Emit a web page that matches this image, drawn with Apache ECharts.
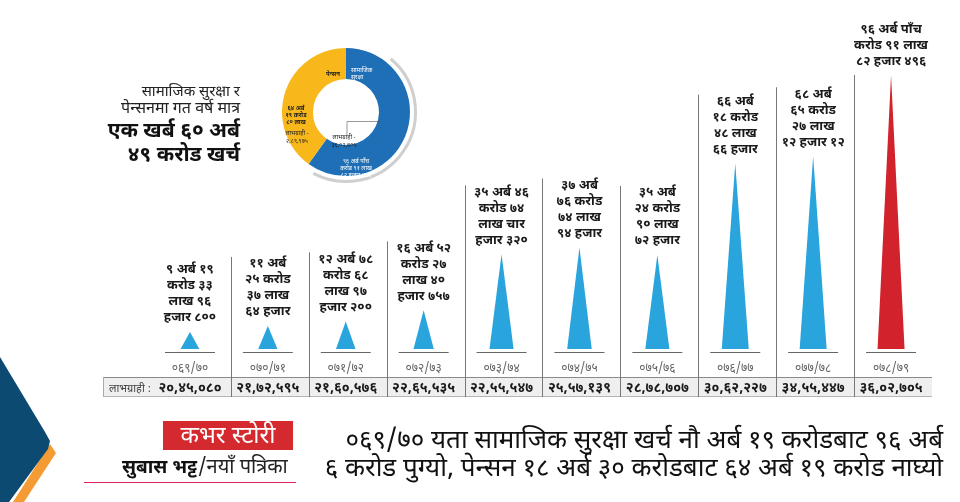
<!DOCTYPE html>
<html>
<head>
<meta charset="utf-8">
<script src="https://cdn.jsdelivr.net/npm/echarts@6/dist/echarts.min.js"></script>
<style>
html,body{margin:0;padding:0;background:#fff;}
#c{width:960px;height:502px;}
</style>
</head>
<body>
<div id="c"></div>
<script>
// ---- data ----
var categories = ['०६९/७०','०७०/७१','०७१/७२','०७२/७३','०७३/७४','०७४/७५','०७५/७६','०७६/७७','०७७/७८','०७८/७९'];
// expenditure in अर्ब (billion NPR)
var spending = [9.19, 11.25, 12.79, 16.52, 35.47, 37.77, 35.25, 66.18, 68.65, 96.06];
var spendingLabels = [
  '९ अर्ब १९\nकरोड ३३\nलाख ९६\nहजार ८००',
  '११ अर्ब\n२५ करोड\n३७ लाख\n६४ हजार',
  '१२ अर्ब ७८\nकरोड ६८\nलाख ९७\nहजार २००',
  '१६ अर्ब ५२\nकरोड २७\nलाख ४०\nहजार ७५७',
  '३५ अर्ब ४६\nकरोड ७४\nलाख चार\nहजार ३२०',
  '३७ अर्ब\n७६ करोड\n७४ लाख\n९४ हजार',
  '३५ अर्ब\n२४ करोड\n९० लाख\n७२ हजार',
  '६६ अर्ब\n१८ करोड\n४८ लाख\n६६ हजार',
  '६८ अर्ब\n६५ करोड\n२७ लाख\n१२ हजार १२',
  '९६ अर्ब पाँच\nकरोड ९१ लाख\n८२ हजार ४९६'
];
var beneficiaries = ['२०,४५,०८०','२१,७२,५९५','२१,६०,५७६','२२,६५,५३५','२२,५५,५४७','२५,५७,१३९','२८,७८,७०७','३०,६२,२२७','३४,५५,४४७','३६,०२,७०५'];
var donutNames = ['सामाजिक सुरक्षा','पेन्सन'];
var donutValues = [96.06, 64.20];

var FONT = "'Noto Sans Devanagari','Lohit Devanagari','Mukta','FreeSans','Noto Sans',sans-serif";
var BLUE = '#29a4dd', RED = '#d2222c';
var yMin = 3.45, yMax = 100;

var chart = echarts.init(document.getElementById('c'), null, {renderer:'canvas'});

var option = {
  animation:false,
  textStyle:{fontFamily:FONT},
  grid:{left:151, right:30, top:63.6, bottom:153},
  xAxis:[{
    type:'category', data:categories,
    axisLine:{show:false}, axisTick:{show:false},
    axisLabel:{color:'#666', fontSize:12, margin:15, fontFamily:FONT, interval:0}
  },{
    type:'category', data:beneficiaries, position:'bottom', offset:0,
    axisLine:{show:false}, axisTick:{show:false},
    axisLabel:{color:'#1a1a1a', fontSize:14, fontWeight:'bold', margin:33, fontFamily:FONT, interval:0, hideOverlap:false}
  }],
  yAxis:{type:'value', min:yMin, max:yMax, show:false},
  series:[
    {
      type:'custom',
      data: spending.map(function(v,i){return [i,v];}),
      encode:{x:0,y:1},
      silent:true,
      renderItem:function(params, api){
        var i = api.value(0), v = api.value(1);
        var base = api.coord([i, yMin]);
        var apex = api.coord([i, v]);
        var w = Math.min(27, 17 + v*0.2);
        var last = i === spending.length - 1;
        return {type:'group', children:[
          {type:'polygon', shape:{points:[[base[0]-w/2, base[1]],[base[0]+w/2, base[1]],[apex[0], apex[1]]]},
           style:{fill: last ? RED : BLUE}},
          {type:'text', style:{text:spendingLabels[i], x:apex[0], y:apex[1]-5, align:'center', verticalAlign:'bottom',
            font:'bold 13px '+FONT, lineHeight:16, fill:'#1a1a1a'}}
        ]};
      },
      z:3
    },
    {
      type:'custom',
      data: spending.map(function(v,i){return [i,v];}),
      encode:{x:0,y:1},
      silent:true,
      renderItem:function(params, api){
        var i = api.value(0);
        var base = api.coord([i, yMin]);
        var band = api.size([1,0])[0];
        var top = api.coord([i, api.value(1)])[1];
        var children = [{
          type:'line', shape:{x1:base[0]-25, y1:base[1]+3.5, x2:base[0]+25, y2:base[1]+3.5},
          style:{stroke:'#666', lineWidth:1}
        }];
        if (i > 0) {
          var xs = Math.round(base[0] - band/2 + 2) + 0.5;
          children.push({
            type:'line', shape:{x1:xs, y1:Math.max(top-69, 75), x2:xs, y2:base[1]+48},
            style:{stroke:'#777', lineWidth:1}
          });
        }
        return {type:'group', children:children};
      },
      z:2
    },
    {
      type:'pie', center:[346,112], radius:[33,64], startAngle:90, silent:true,
      label:{show:false}, labelLine:{show:false},
      data: donutValues.map(function(v,i){
        return {value:v, name:donutNames[i], itemStyle:{color: i===0 ? '#1f6fb7' : '#f8b81c'}};
      }),
      z:2
    }
  ],
  graphic:[
    // left decoration
    {type:'polygon', z:1, shape:{points:[[50,444],[56,453],[24,502],[13,502]]}, style:{fill:'#f59b33'}},
    {type:'polygon', z:2, shape:{points:[[0,357],[45,432],[50,441],[48,449],[9,502],[0,502]]}, style:{fill:'#0d4a72'}},
    // decorative ring
    {type:'arc', z:1, shape:{cx:346, cy:112, r:69.5, startAngle:-50*Math.PI/180, endAngle:118*Math.PI/180}, style:{stroke:'#cfcfcf', lineWidth:3, fill:null}},
    // title
    {type:'text', z:5, style:{text:'सामाजिक सुरक्षा र', x:240, y:93, align:'right', verticalAlign:'middle', font:'15px '+FONT, fill:'#222'}},
    {type:'text', z:5, style:{text:'पेन्सनमा गत वर्ष मात्र', x:240, y:110, align:'right', verticalAlign:'middle', font:'16px '+FONT, fill:'#222'}},
    {type:'text', z:5, style:{text:'एक खर्ब ६० अर्ब', x:240, y:133, align:'right', verticalAlign:'middle', font:'bold 21px '+FONT, fill:'#111'}},
    {type:'text', z:5, style:{text:'४९ करोड खर्च', x:240, y:157, align:'right', verticalAlign:'middle', font:'bold 21px '+FONT, fill:'#111'}},
    // donut labels
    {type:'text', z:10, style:{text:'सामाजिक\nसुरक्षा', x:351, y:67, align:'left', verticalAlign:'top', font:'6px '+FONT, lineHeight:7, fill:'#fff'}},
    {type:'text', z:10, style:{text:'पेन्सन', x:333, y:75, align:'center', verticalAlign:'middle', font:'bold 6px '+FONT, fill:'#222'}},
    {type:'text', z:10, style:{text:'६४ अर्ब\n१९ करोड\n८० लाख', x:296, y:105, align:'center', verticalAlign:'top', font:'bold 6px '+FONT, lineHeight:7, fill:'#222'}},
    {type:'text', z:10, style:{text:'लाभग्राही -\n२,८९,९७५', x:297, y:130, align:'center', verticalAlign:'top', font:'6px '+FONT, lineHeight:8, fill:'#222'}},
    {type:'text', z:10, style:{text:'लाभग्राही -\n३६,०२,७०५', x:344, y:134, align:'center', verticalAlign:'top', font:'6px '+FONT, lineHeight:8, fill:'#222'}},
    {type:'text', z:10, style:{text:'९६ अर्ब पाँच\nकरोड ९१ लाख\n८२ हजार ४९६', x:356, y:158, align:'center', verticalAlign:'top', font:'6px '+FONT, lineHeight:7, fill:'#fff'}},
    {type:'polyline', z:10, shape:{points:[[347,135],[347,121.5],[381,121.5]]}, style:{stroke:'#555', lineWidth:0.6, fill:null}},
    // table row background
    {type:'rect', z:-10, shape:{x:103, y:377, width:829, height:20}, style:{fill:'#efefef', stroke:null}},
    {type:'line', z:-9, shape:{x1:103, y1:377.5, x2:932, y2:377.5}, style:{stroke:'#8a8a8a', lineWidth:1}},
    {type:'line', z:-9, shape:{x1:103, y1:396.5, x2:932, y2:396.5}, style:{stroke:'#b5b5b5', lineWidth:1}},
    {type:'line', z:-9, shape:{x1:103.5, y1:377, x2:103.5, y2:397}, style:{stroke:'#aaa', lineWidth:1}},
    {type:'text', z:5, style:{text:'लाभग्राही :', x:109, y:390, align:'left', verticalAlign:'middle', font:'11px '+FONT, fill:'#444'}},
    // bottom
    {type:'rect', z:5, shape:{x:163, y:421, width:130, height:29}, style:{fill:'#d42a2f'}},
    {type:'text', z:6, style:{text:'कभर स्टोरी', x:228, y:439, align:'center', verticalAlign:'middle', font:'24px '+FONT, fill:'#fff'}},
    {type:'text', z:6, style:{text:'सुबास भट्ट', x:197, y:469, align:'right', verticalAlign:'middle', font:'bold 19px '+FONT, fill:'#111'}},
    {type:'text', z:6, style:{text:'/नयाँ पत्रिका', x:198, y:469, align:'left', verticalAlign:'middle', font:'20px '+FONT, fill:'#222'}},
    {type:'line', z:6, shape:{x1:84, y1:482.5, x2:296, y2:482.5}, style:{stroke:'#e0245a', lineWidth:1.2}},
    {type:'text', z:6, style:{text:'०६९/७० यता सामाजिक सुरक्षा खर्च नौ अर्ब १९ करोडबाट ९६ अर्ब', x:943, y:443, align:'right', verticalAlign:'middle', font:'26px '+FONT, fill:'#111'}},
    {type:'text', z:6, style:{text:'६ करोड पुग्यो, पेन्सन १८ अर्ब ३० करोडबाट ६४ अर्ब १९ करोड नाघ्यो', x:943, y:471, align:'right', verticalAlign:'middle', font:'26px '+FONT, fill:'#111'}}
  ]
};
chart.setOption(option);
</script>
</body>
</html>
